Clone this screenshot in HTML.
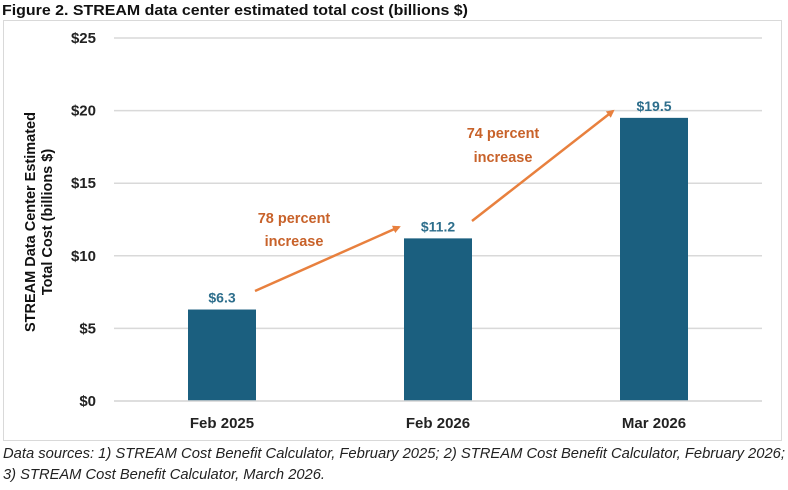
<!DOCTYPE html>
<html><head><meta charset="utf-8"><style>
body{margin:0;background:#fff;width:788px;height:485px;overflow:hidden}
svg text{font-family:"Liberation Sans",Arial,sans-serif}
</style></head><body>
<svg id="chart" width="788" height="485" viewBox="0 0 788 485">
<text x="2" y="15" font-size="14.5" font-weight="bold" fill="#111" textLength="466" lengthAdjust="spacingAndGlyphs">Figure 2. STREAM data center estimated total cost (billions $)</text>
<rect x="3.5" y="20.5" width="778" height="420" fill="none" stroke="#d9d9d9"/>
<g id="grid"></g><g id="bars"></g>
<g font-size="14.5" font-weight="bold" fill="#111" text-anchor="middle">
<text x="35" y="222" transform="rotate(-90 35 222)">STREAM Data Center Estimated</text>
<text x="52" y="222" transform="rotate(-90 52 222)">Total Cost (billions $)</text>
</g>
<defs><marker id="ah" markerWidth="8" markerHeight="8" refX="6" refY="4" orient="auto" markerUnits="userSpaceOnUse"><path d="M0,0 L8,4 L0,8 z" fill="#e8803e"/></marker></defs>
<line x1="255" y1="291" x2="399" y2="227" stroke="#e8803e" stroke-width="2.5" marker-end="url(#ah)"/>
<line x1="472" y1="221" x2="613" y2="111" stroke="#e8803e" stroke-width="2.5" marker-end="url(#ah)"/>
<g font-size="14.5" font-weight="bold" fill="#c8622a" text-anchor="middle">
<text x="294" y="223">78 percent<tspan x="294" dy="23">increase</tspan></text>
<text x="503" y="138">74 percent<tspan x="503" dy="24">increase</tspan></text>
</g>
<g font-size="14.5" font-style="italic" fill="#222">
<text x="3" y="458" textLength="782" lengthAdjust="spacingAndGlyphs">Data sources: 1) STREAM Cost Benefit Calculator, February 2025; 2) STREAM Cost Benefit Calculator, February 2026;</text>
<text x="3" y="479" textLength="322" lengthAdjust="spacingAndGlyphs">3) STREAM Cost Benefit Calculator, March 2026.</text>
</g>
</svg>
<script>
const categories=["Feb 2025","Feb 2026","Mar 2026"];
const values=[6.3,11.2,19.5];
const valueLabels=["$6.3","$11.2","$19.5"];
const yTicks=[0,5,10,15,20,25];
const yTickLabels=["$0","$5","$10","$15","$20","$25"];
const NS="http://www.w3.org/2000/svg";
const x0=114,x1=762,y0=401,y1=38,ymax=25;
const y=v=>y0-(v/ymax)*(y0-y1);
const band=(x1-x0)/categories.length;
const xc=i=>x0+band*(i+0.5);
function mk(tag,attrs,parent,txt){const e=document.createElementNS(NS,tag);for(const k in attrs)e.setAttribute(k,attrs[k]);if(txt!=null)e.textContent=txt;parent.appendChild(e);return e;}
const grid=document.getElementById('grid'),bars=document.getElementById('bars');
yTicks.forEach((t,i)=>{
  const l=mk('line',{x1:x0,x2:x1,y1:y(t),y2:y(t),stroke:'#d9d9d9','stroke-width':1.5},grid);
  
  
  const tx=mk('text',{x:96,y:y(t)+5,'text-anchor':'end','font-size':15,'font-weight':'bold',fill:'#222'},grid,yTickLabels[i]);
  
  
});
categories.forEach((c,i)=>{
  const bw=68;
  const r=mk('rect',{x:xc(i)-bw/2,y:y(values[i]),width:bw,height:y0-y(values[i]),fill:'#1b5f7f'},bars);
  
  
  const vl=mk('text',{x:xc(i),y:y(values[i])-7,'text-anchor':'middle','font-size':14,'font-weight':'bold',fill:'#2d6e8c'},bars,valueLabels[i]);
  
  
  const cl=mk('text',{x:xc(i),y:428,'text-anchor':'middle','font-size':15,'font-weight':'bold',fill:'#222'},bars,c);
  
  
});
const base=mk('line',{x1:x0,x2:x1,y1:y0,y2:y0,stroke:'#d9d9d9','stroke-width':1.5},bars);


</script>
</body></html>
